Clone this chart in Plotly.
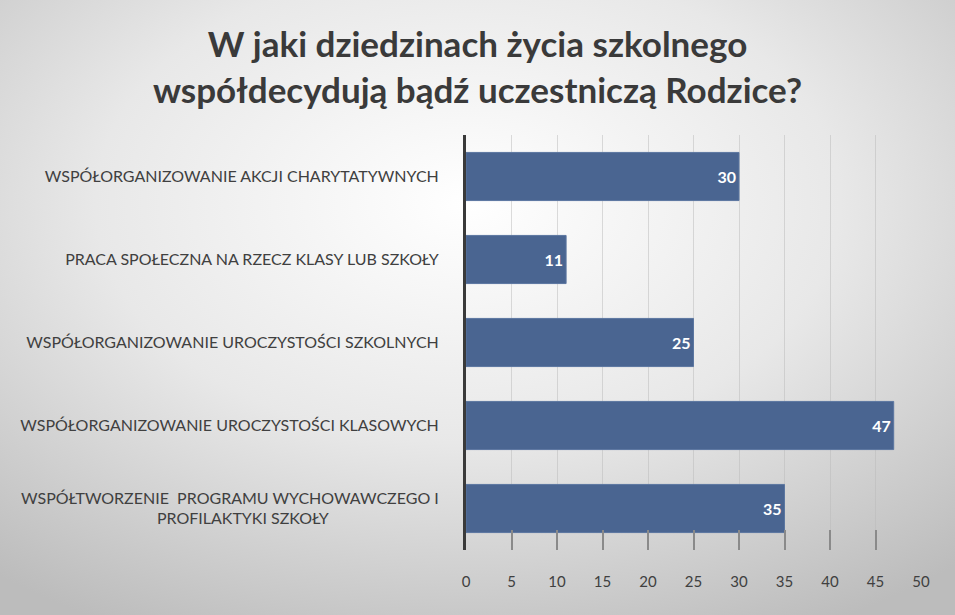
import plotly.graph_objects as go
import base64

categories = [
    "WSPÓŁTWORZENIE  PROGRAMU WYCHOWAWCZEGO I<br>PROFILAKTYKI SZKOŁY" + "\u00a0" * 27,
    "WSPÓŁORGANIZOWANIE UROCZYSTOŚCI KLASOWYCH",
    "WSPÓŁORGANIZOWANIE UROCZYSTOŚCI SZKOLNYCH",
    "PRACA SPOŁECZNA NA RZECZ KLASY LUB SZKOŁY",
    "WSPÓŁORGANIZOWANIE AKCJI CHARYTATYWNYCH",
]
values = [35, 47, 25, 11, 30]
tick_vals = [0, 5, 10, 15, 20, 25, 30, 35, 40, 45, 50]
title_text = "W jaki dziedzinach życia szkolnego<br>współdecydują bądź uczestniczą Rodzice?"

svg = """<svg xmlns='http://www.w3.org/2000/svg' width='955' height='615'>
<defs><radialGradient id='g' cx='0.49' cy='0.33' r='0.78'>
<stop offset='0' stop-color='#ffffff'/><stop offset='0.5' stop-color='#e8e8e8'/>
<stop offset='1' stop-color='#bcbcbc'/></radialGradient></defs>
<rect width='955' height='615' fill='url(#g)'/></svg>"""
bg_src = "data:image/svg+xml;base64," + base64.b64encode(svg.encode()).decode()

fig = go.Figure(go.Bar(
    x=values, y=categories, orientation="h",
    marker=dict(color="#4a6591", line=dict(color="#5b76a0", width=1)),
    text=values, textposition="inside", insidetextanchor="end",
    textfont=dict(color="white", size=16, family="Lato", weight="bold"),
    cliponaxis=False,
))

fig.update_layout(
    width=955, height=615,
    margin=dict(l=466, r=34, t=135, b=65),
    paper_bgcolor="#e2e2e2", plot_bgcolor="rgba(0,0,0,0)",
    bargap=0.42,
    showlegend=False,
    title=dict(text=title_text, x=0.5, xanchor="center", y=1 - 57 / 615, yanchor="middle",
               font=dict(family="Lato", size=35, color="#3a3a3a", weight="bold")),
    images=[dict(source=bg_src, xref="paper", yref="paper",
                 x=-466 / 455, y=1 + 135 / 415, sizex=955 / 455, sizey=615 / 415,
                 sizing="stretch", layer="below", xanchor="left", yanchor="top")],
    font=dict(family="Lato", color="#404040"),
)

fig.update_xaxes(range=[0, 50], tickvals=tick_vals, showgrid=True,
                 gridcolor="rgba(185,185,185,0.5)", gridwidth=1,
                 ticks="inside", ticklen=20, tickcolor="#8a8a8a", tickwidth=2,
                 ticklabelstandoff=21, zeroline=False, showline=False,
                 tickfont=dict(size=15, color="#404040", family="Lato"))
fig.update_yaxes(showline=True, linecolor="#3a3a3a", linewidth=3, ticks="",
                 ticklabelstandoff=21,
                 tickfont=dict(size=16, color="#404040", family="Lato"))

fig.write_html("out.html")
